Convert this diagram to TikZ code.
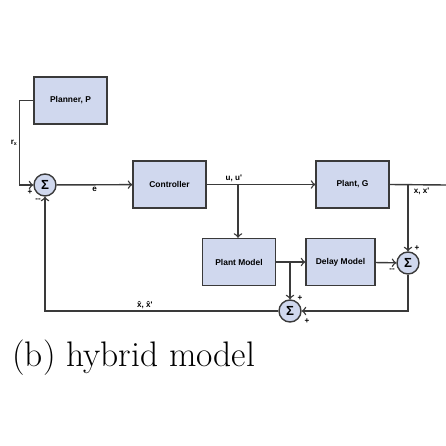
\documentclass[tikz,border=0pt]{standalone}
\usepackage{fontspec}
\newfontfamily\boxfont{Liberation Sans}
\usepackage{tikz}
\usetikzlibrary{calc,arrows,positioning}
\definecolor{boxblue}{RGB}{208,216,238}
\definecolor{wire}{RGB}{58,58,58}
\tikzset{
    block/.style={
    rectangle,draw=wire,fill=boxblue,line width=0.8pt,
    minimum width=1.46cm,minimum height=0.94cm,
    font=\boxfont\bfseries\fontsize{4.8}{5.5}\selectfont
    },
    sumnode/.style={
    circle,draw=wire,fill=boxblue,line width=0.8pt,
    minimum size=0.44cm,inner sep=0pt,
    font=\boxfont\bfseries\fontsize{7.5}{8}\selectfont
    },
    signal/.style={
    draw=wire,line width=0.8pt,->,>=to
    },
    wire/.style={
    draw=wire,line width=0.8pt
    },
    tag/.style={
    inner sep=1pt,font=\boxfont\bfseries\fontsize{4.6}{5}\selectfont
    },
}
\begin{document}
\begin{tikzpicture}[x=0.02cm, y=-0.02cm]
   \useasboundingbox[fill=white] (0,0) rectangle (446,446);
   \node[block] (P)  at (70.5,100.5) {Planner, P};
   \node[block] (C)  at (169.5,184.5) {Controller};
   \node[block] (G)  at (352.5,184.5) {Plant, G};
   \node[block] (PM) at (239,262) {Plant Model};
   \node[block,minimum width=1.38cm] (DM) at (340.5,262) {Delay Model};
   \node[sumnode] (S1) at (45,185) {Σ};
   \node[sumnode] (S2) at (290,311) {Σ};
   \node[sumnode] (S3) at (408,263) {Σ};

   \coordinate (ub)  at (238,185);
   \coordinate (xb)  at (408,185);
   \coordinate (pb)  at (290,262);
   \coordinate (out) at (446,185);

   % forward path
   \path[signal] (P.west) -- ++(-14,0) |- node[tag,pos=0.25,left] {r\raisebox{-0.6pt}{\fontsize{3}{3}\selectfont x}} (S1.west);
   \path[signal] (S1) -- node[tag,below] {e} (C);
   \path[signal] (C) -- node[tag,above,pos=0.25] {u, u'} (G);
   \path[wire]   (G.east) -- (out);
   % models
   \path[signal] (ub) -- (ub |- PM.north);
   \path[signal] (PM) -- (DM);
   \path[signal] (pb) -- (S2.north);
   \path[signal] (DM) -- (S3);
   \path[signal] (xb) -- node[tag,pos=0.1,right=2pt] {x, x'} (S3.north);
   % feedback
   \path[signal] (S3.south) |- (S2.east);
   \path[signal] (S2.west) -| node[tag,above,pos=0.286] {\^x, \^x'} (S1.south);

   % signs
   \node[tag] (S1p) at ($(S1)+(-15,7)$) {+};
   \node[tag] (S1m) at ($(S1)+(-7,15)$) {--};
   \node[tag] (S2a) at ($(S2)+(10,-13)$) {+};
   \node[tag] (S2b) at ($(S2)+(17,10)$) {+};
   \node[tag] (S3p) at ($(S3)+(9,-15)$) {+};
   \node[tag] (S3m) at ($(S3)+(-16,7)$) {--};

   \node[anchor=base west,inner sep=0pt,font=\fontsize{20.2}{24}\selectfont] (cap) at (12,366) {(b) hybrid model};
\end{tikzpicture}
\end{document}
